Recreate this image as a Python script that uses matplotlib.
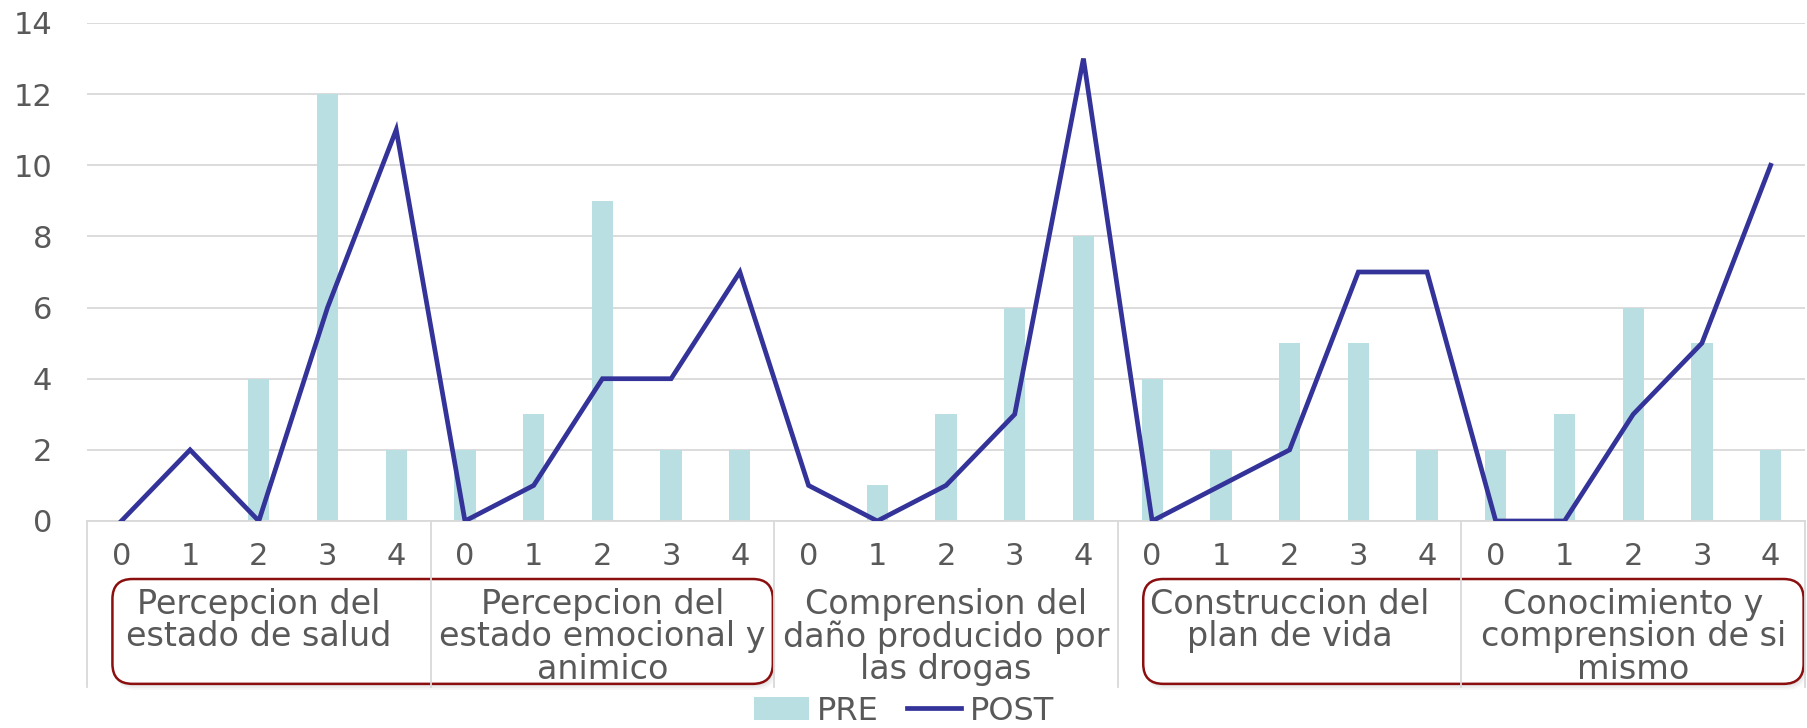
import matplotlib
matplotlib.use("Agg")
from matplotlib import pyplot as plt
from matplotlib import transforms
from matplotlib.patches import FancyBboxPatch, Patch
from matplotlib.lines import Line2D

plt.rcParams['font.family'] = ['DejaVu Sans']

# data
groups = ["Percepcion del\nestado de salud",
          "Percepcion del\nestado emocional y\nanimico",
          "Comprension del\ndaño producido por\nlas drogas",
          "Construccion del\nplan de vida",
          "Conocimiento y\ncomprension de si\nmismo"]
levels = ["0", "1", "2", "3", "4"]
pre = [0, 0, 4, 12, 2,
       2, 3, 9, 2, 2,
       0, 1, 3, 6, 8,
       4, 2, 5, 5, 2,
       2, 3, 6, 5, 2]
post = [0, 2, 0, 6, 11,
        0, 1, 4, 4, 7,
        1, 0, 1, 3, 13,
        0, 1, 2, 7, 7,
        0, 0, 3, 5, 10]
boxed = [(0, 1), (3, 4)]  # groups circled in red

text_color = "#595959"
grid_color = "#D9D9D9"
bar_color = "#B9DFE2"
line_color = "#333399"

W, H, DPI = 1808, 728, 100
fig = plt.figure(figsize=(W / DPI, H / DPI), dpi=DPI)
ax = fig.add_axes([87 / W, 1 - 521 / H, (1805 - 87) / W, (521 - 23) / H])

x = list(range(len(pre)))
ax.bar(x, pre, width=0.31, color=bar_color, zorder=2)
ax.plot(x, post, color=line_color, lw=3.4, zorder=3, solid_joinstyle='miter')

ax.set_xlim(-0.5, len(pre) - 0.5)
ax.set_ylim(0, 14)
ax.set_yticks(range(0, 15, 2))
ax.yaxis.grid(True, color=grid_color, lw=1.3, zorder=0)
ax.set_axisbelow(True)
for s in ["left", "right", "top"]:
    ax.spines[s].set_visible(False)
ax.spines["bottom"].set_color(grid_color)
ax.spines["bottom"].set_linewidth(1.3)

ax.set_xticks(x)
ax.set_xticklabels(levels * len(groups))
ax.tick_params(axis='x', length=0, pad=15, labelsize=22, labelcolor=text_color)
ax.tick_params(axis='y', length=0, pad=25, labelsize=22, labelcolor=text_color)

# group separators and group labels under the axis
trans = transforms.blended_transform_factory(ax.transData, ax.transAxes)
n = len(levels)
for g in range(len(groups) + 1):
    xs = g * n - 0.5
    ax.plot([xs, xs], [0, -0.333], transform=trans, clip_on=False,
            color=grid_color, lw=1.3, zorder=2)
for g, name in enumerate(groups):
    ax.text(g * n + (n - 1) / 2, -0.134, name, transform=trans,
            ha='center', va='top', fontsize=24, color=text_color,
            linespacing=0.98, zorder=4)

# rounded red boxes round some group labels (pixel coords)
fig.canvas.draw()
pix = transforms.IdentityTransform()
style = "round,pad=0,rounding_size=20"
for g0, g1 in boxed:
    x0, y0 = trans.transform((g0 * n - 0.5 + 0.37, -0.327))
    x1, y1 = trans.transform((g1 * n + n - 0.5 - 0.02, -0.1165))
    for k, a in [(6, 0.03), (4, 0.04), (2, 0.05)]:
        sh = FancyBboxPatch((x0 + k * 0.5, y0 - k), x1 - x0, y1 - y0,
                            boxstyle=style, transform=pix, facecolor="#000000",
                            alpha=a, edgecolor='none', clip_on=False, zorder=1.2)
        ax.add_artist(sh)
    box = FancyBboxPatch((x0, y0), x1 - x0, y1 - y0, boxstyle=style,
                         transform=pix, facecolor='white', edgecolor="#8B0F0F",
                         lw=1.8, clip_on=False, zorder=1.5)
    ax.add_artist(box)

handles = [Patch(facecolor=bar_color, edgecolor='none'),
           Line2D([0], [0], color=line_color, lw=3.4)]
fig.legend(handles, ["PRE", "POST"], loc='center', ncol=2,
           bbox_to_anchor=(0.5, 1 - 711 / H), frameon=False, fontsize=23,
           labelcolor=text_color, handlelength=1.7, handletextpad=0.25,
           columnspacing=0.9, borderpad=0.1)

fig.savefig("out.png", dpi=DPI)
